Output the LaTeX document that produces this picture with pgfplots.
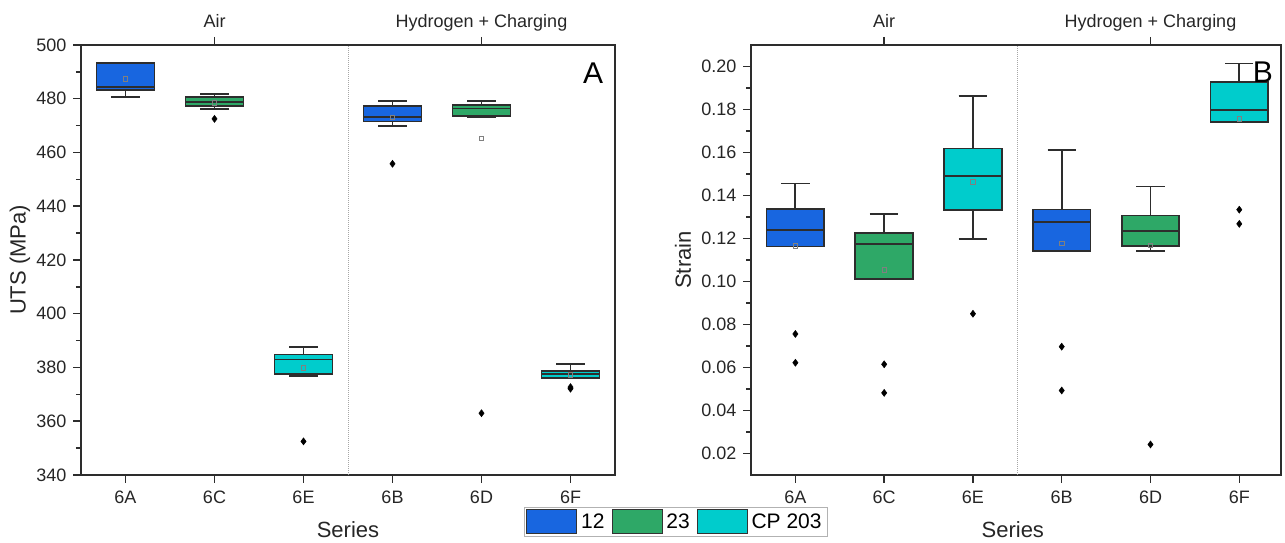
\documentclass[border=0pt]{standalone}
\usepackage{fontspec}
\setmainfont{Liberation Sans}
\usepackage{pgfplots}
\pgfplotsset{compat=1.18}
\usepgfplotslibrary{statistics}
\definecolor{cA}{RGB}{24,102,224}
\definecolor{cB}{RGB}{46,168,103}
\definecolor{cC}{RGB}{0,204,204}
\definecolor{axc}{RGB}{45,45,45}
\pgfplotsset{
  panel/.style={
    scale only axis, width=534pt, height=430pt, anchor=south west,
    xmin=0.5, xmax=6.5,
    xtick={1,2,3,4,5,6}, xticklabels={6A,6C,6E,6B,6D,6F},
    tick pos=left, tick align=outside,
    major tick length=8pt, minor tick length=5pt,
    every tick/.style={axc, line width=1.5pt},
    axis line style={axc, line width=1.6pt},
    tick label style={font=\fontsize{18}{20}\selectfont, text=black!85},
    xticklabel style={yshift=-4pt},
    yticklabel style={xshift=-3pt},
    /pgf/number format/assume math mode=true,
    minor y tick num=1,
    boxplot/draw direction=y,
    clip=false,
  },
  topax/.style={
    scale only axis, width=534pt, height=430pt, anchor=south west,
    xmin=0.5, xmax=6.5, ymin=0, ymax=1,
    axis x line*=top, axis y line=none,
    xtick={2,5}, xticklabels={Air,Hydrogen + Charging},
    tick align=outside, major tick length=8pt,
    every tick/.style={axc, line width=1.6pt},
    xtick style={axc, line width=1.6pt},
    axis line style={axc, line width=1.6pt},
    typeset ticklabels with strut,
    tick label style={font=\fontsize{18}{20}\selectfont, text=black!85},
  },
  bx/.style={boxplot prepared={#1}, draw=axc, line width=1.8pt, solid,
    mark=diamond*, mark size=3.5pt,
    mark options={fill=black, draw=black, line width=0.5pt},
    boxplot/box extend=0.65, boxplot/whisker extend=0.32},
  mn/.style={only marks, mark=square, mark size=2.3pt,
    mark options={draw=black!50, line width=0.7pt, fill=none}, forget plot},
  sep/.style={gray!70, densely dotted, line width=1pt, forget plot, no marks},
}
\begin{document}
\begin{tikzpicture}
\useasboundingbox (0,0) rectangle (1285pt,543pt);
% ---------------- Panel A
\begin{axis}[panel, at={(81pt,68pt)},
  ymin=340, ymax=500, ytick={340,360,380,400,420,440,460,480,500},
  ylabel={UTS (MPa)}, xlabel={Series},
  every axis y label/.style={at={(rel axis cs:0,0.5)}, xshift=-61pt, rotate=90, anchor=center,
    font=\fontsize{22}{24}\selectfont, text=black!85},
  every axis x label/.style={at={(rel axis cs:0.5,0)}, yshift=-55pt, anchor=center,
    font=\fontsize{22}{24}\selectfont, text=black!85},
]
\addplot[sep] coordinates {(3.5,340) (3.5,500)};
% 6A
\addplot[bx={lower whisker=480.6, lower quartile=483.3, median=484.5, upper quartile=493.4, upper whisker=493.4, draw position=1}, fill=cA] coordinates {};
% 6C
\addplot[bx={lower whisker=476.3, lower quartile=477.3, median=478.9, upper quartile=480.5, upper whisker=481.8, draw position=2}, fill=cB] coordinates {(0,472.5)};
% 6E
\addplot[bx={lower whisker=376.8, lower quartile=377.5, median=383.0, upper quartile=384.8, upper whisker=387.5, draw position=3}, fill=cC] coordinates {(0,352.5)};
% 6B
\addplot[bx={lower whisker=470.0, lower quartile=471.5, median=473.2, upper quartile=477.3, upper whisker=479.2, draw position=4}, fill=cA] coordinates {(0,455.8)};
% 6D
\addplot[bx={lower whisker=473.0, lower quartile=473.5, median=476.4, upper quartile=477.8, upper whisker=479.1, draw position=5}, fill=cB] coordinates {(0,363.0)};
% 6F
\addplot[bx={lower whisker=376.0, lower quartile=376.0, median=377.5, upper quartile=378.7, upper whisker=381.3, draw position=6}, fill=cC] coordinates {(0,372.1) (0,372.7)};
% means
\addplot[mn] coordinates {(1,487.3) (2,478.5) (3,379.8) (4,473.1) (5,465.3) (6,377.3)};
\node[font=\fontsize{30}{32}\selectfont, text=black] at (rel axis cs:0.959,0.935) {A};
\end{axis}
\begin{axis}[topax, at={(81pt,68pt)}]
\addplot[draw=none] coordinates {(1,0.5)};
\end{axis}
% ---------------- Panel B
\begin{axis}[panel, at={(751pt,68pt)}, width=530pt, xmax=6.47,
  ymin=0.01, ymax=0.21, ytick={0.02,0.04,0.06,0.08,0.10,0.12,0.14,0.16,0.18,0.20},
  yticklabel style={/pgf/number format/.cd, fixed, fixed zerofill, precision=2},
  ylabel={Strain}, xlabel={Series},
  every axis y label/.style={at={(rel axis cs:0,0.5)}, xshift=-68pt, rotate=90, anchor=center,
    font=\fontsize{22}{24}\selectfont, text=black!85},
  every axis x label/.style={at={(rel axis cs:0.494,0)}, yshift=-55pt, anchor=center,
    font=\fontsize{22}{24}\selectfont, text=black!85},
  legend style={at={(rel axis cs:-0.1415,-0.109)}, anchor=center, legend columns=3,
    draw=black!30, line width=0.8pt, font=\fontsize{21}{23}\selectfont,
    inner sep=2pt, nodes={inner sep=4pt},
    /tikz/every even column/.append style={column sep=3pt}},
  legend image code/.code={\draw[#1, draw=black!80, line width=0.8pt] (0pt,-12pt) rectangle (50pt,12pt);},
]
\addlegendimage{fill=cA}\addlegendentry{12}
\addlegendimage{fill=cB}\addlegendentry{23}
\addlegendimage{fill=cC}\addlegendentry{CP 203}
\addplot[sep] coordinates {(3.5,0.01) (3.5,0.21)};
% 6A
\addplot[bx={lower whisker=0.1163, lower quartile=0.1163, median=0.1239, upper quartile=0.1338, upper whisker=0.1456, draw position=1}, fill=cA, forget plot] coordinates {(0,0.0756) (0,0.0622)};
% 6C
\addplot[bx={lower whisker=0.1012, lower quartile=0.1012, median=0.1174, upper quartile=0.1226, upper whisker=0.1315, draw position=2}, fill=cB, forget plot] coordinates {(0,0.0615) (0,0.0482)};
% 6E
\addplot[bx={lower whisker=0.1197, lower quartile=0.1334, median=0.1492, upper quartile=0.1619, upper whisker=0.1863, draw position=3}, fill=cC, forget plot] coordinates {(0,0.0850)};
% 6B
\addplot[bx={lower whisker=0.1143, lower quartile=0.1143, median=0.1276, upper quartile=0.1335, upper whisker=0.1610, draw position=4}, fill=cA, forget plot] coordinates {(0,0.0697) (0,0.0493)};
% 6D
\addplot[bx={lower whisker=0.1141, lower quartile=0.1164, median=0.1236, upper quartile=0.1307, upper whisker=0.1442, draw position=5}, fill=cB, forget plot] coordinates {(0,0.0242)};
% 6F
\addplot[bx={lower whisker=0.1740, lower quartile=0.1740, median=0.1798, upper quartile=0.1927, upper whisker=0.2014, draw position=6}, fill=cC, forget plot] coordinates {(0,0.1334) (0,0.1268)};
% means
\addplot[mn] coordinates {(1,0.1167) (2,0.1054) (3,0.1464) (4,0.1177) (5,0.1169) (6,0.1756)};
\node[font=\fontsize{30}{32}\selectfont, text=black] at (rel axis cs:0.966,0.937) {B};
\end{axis}
\begin{axis}[topax, at={(751pt,68pt)}, width=530pt, xmax=6.47]
\addplot[draw=none] coordinates {(1,0.5)};
\end{axis}
\end{tikzpicture}
\end{document}
